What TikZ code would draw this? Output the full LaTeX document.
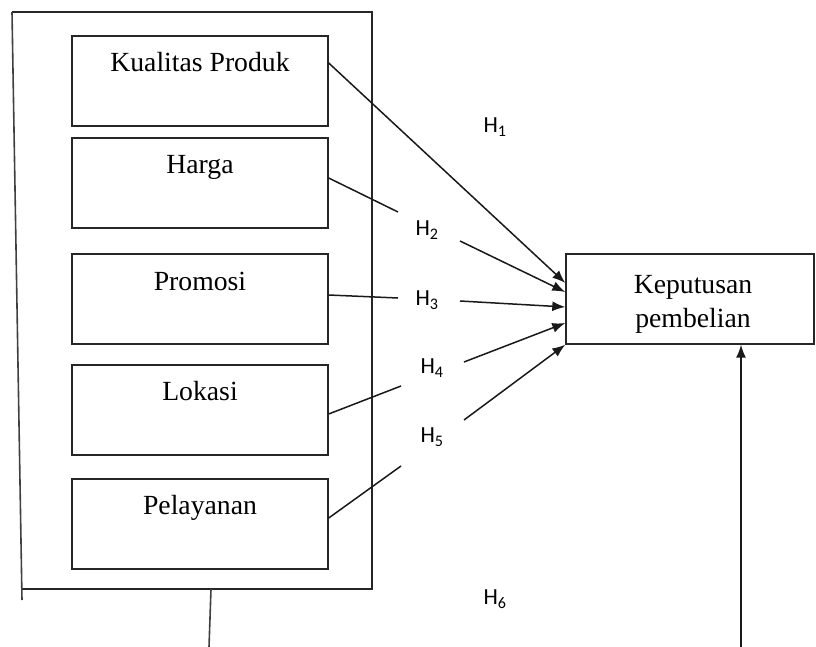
\documentclass[tikz,border=0pt]{standalone}
\usepackage{fontspec}
\setmainfont{Liberation Serif}
\newfontfamily\hfont{Carlito}
\usetikzlibrary{arrows.meta}
\begin{document}
\begin{tikzpicture}[x=1pt,y=-1pt,
  box/.style={draw=black!85,line width=1.4pt,minimum width=256pt,minimum height=90pt,inner sep=0pt},
  bigbox/.style={draw=black!85,line width=1.4pt,minimum width=248pt,minimum height=90pt,inner sep=0pt},
  lbl/.style={anchor=base,inner sep=0pt,font=\fontsize{27.7}{32}\selectfont},
  hyp/.style={inner sep=0pt,font=\hfont\fontsize{23}{26}\selectfont},
  conn/.style={draw=black!90,line width=1.5pt},
  arr/.style={conn,-{Latex[length=13pt,width=10pt]}}]
\useasboundingbox (0,0) rectangle (816,647);
% outer frame
\draw[black!85,line width=1.4pt] (12,12) -- (372,12) -- (372,589) -- (22,589);
\draw[black!75,line width=1.6pt] (12,12) -- (22,600);
\draw[black!75,line width=1.6pt] (211,589) -- (209,647);
% variable boxes
\node[box] (kp) at (200,81) {};
\node[box] (hg) at (200,183) {};
\node[box] (pr) at (200,299) {};
\node[box] (lk) at (200,410) {};
\node[box] (pl) at (200,524) {};
\node[lbl] (kpt) at (200,72) {Kualitas Produk};
\node[lbl] (hgt) at (200,174) {Harga};
\node[lbl] (prt) at (200,290) {Promosi};
\node[lbl] (lkt) at (200,400) {Lokasi};
\node[lbl] (plt) at (200,514) {Pelayanan};
% dependent box
\node[bigbox] (kb) at (690,299) {};
\node[lbl] (kbt1) at (693,293) {Keputusan};
\node[lbl] (kbt2) at (693,327) {pembelian};
% hypothesis labels
\node[hyp] (h1) at (495,127) {H\textsubscript{1}};
\node[hyp] (h2) at (427,230) {H\textsubscript{2}};
\node[hyp] (h3) at (427,300) {H\textsubscript{3}};
\node[hyp] (h4) at (432,368) {H\textsubscript{4}};
\node[hyp] (h5) at (432,437) {H\textsubscript{5}};
\node[hyp] (h6) at (495,599) {H\textsubscript{6}};
% gap coordinates
\coordinate (g2a) at (398,212);
\coordinate (g2b) at (460,241);
\coordinate (g3a) at (398,298);
\coordinate (g3b) at (460,301);
\coordinate (g4a) at (401,386);
\coordinate (g4b) at (464,362);
\coordinate (g5a) at (401,466);
\coordinate (g5b) at (464,420);
\coordinate (v0) at (741,647);
% connectors
\draw[arr] ([yshift=18pt]kp.east) -- ([yshift=16pt]kb.west);
\draw[conn] ([yshift=5pt]hg.east) -- (g2a);
\draw[arr] (g2b) -- ([yshift=7pt]kb.west);
\draw[conn] ([yshift=4pt]pr.east) -- (g3a);
\draw[arr] (g3b) -- ([yshift=-8pt]kb.west);
\draw[conn] ([yshift=-4pt]lk.east) -- (g4a);
\draw[arr] (g4b) -- ([yshift=-24pt]kb.west);
\draw[conn] ([yshift=6pt]pl.east) -- (g5a);
\draw[arr] (g5b) -- (kb.south west);
\draw[arr] (v0) -- (v0 |- kb.south);
\end{tikzpicture}
\end{document}
